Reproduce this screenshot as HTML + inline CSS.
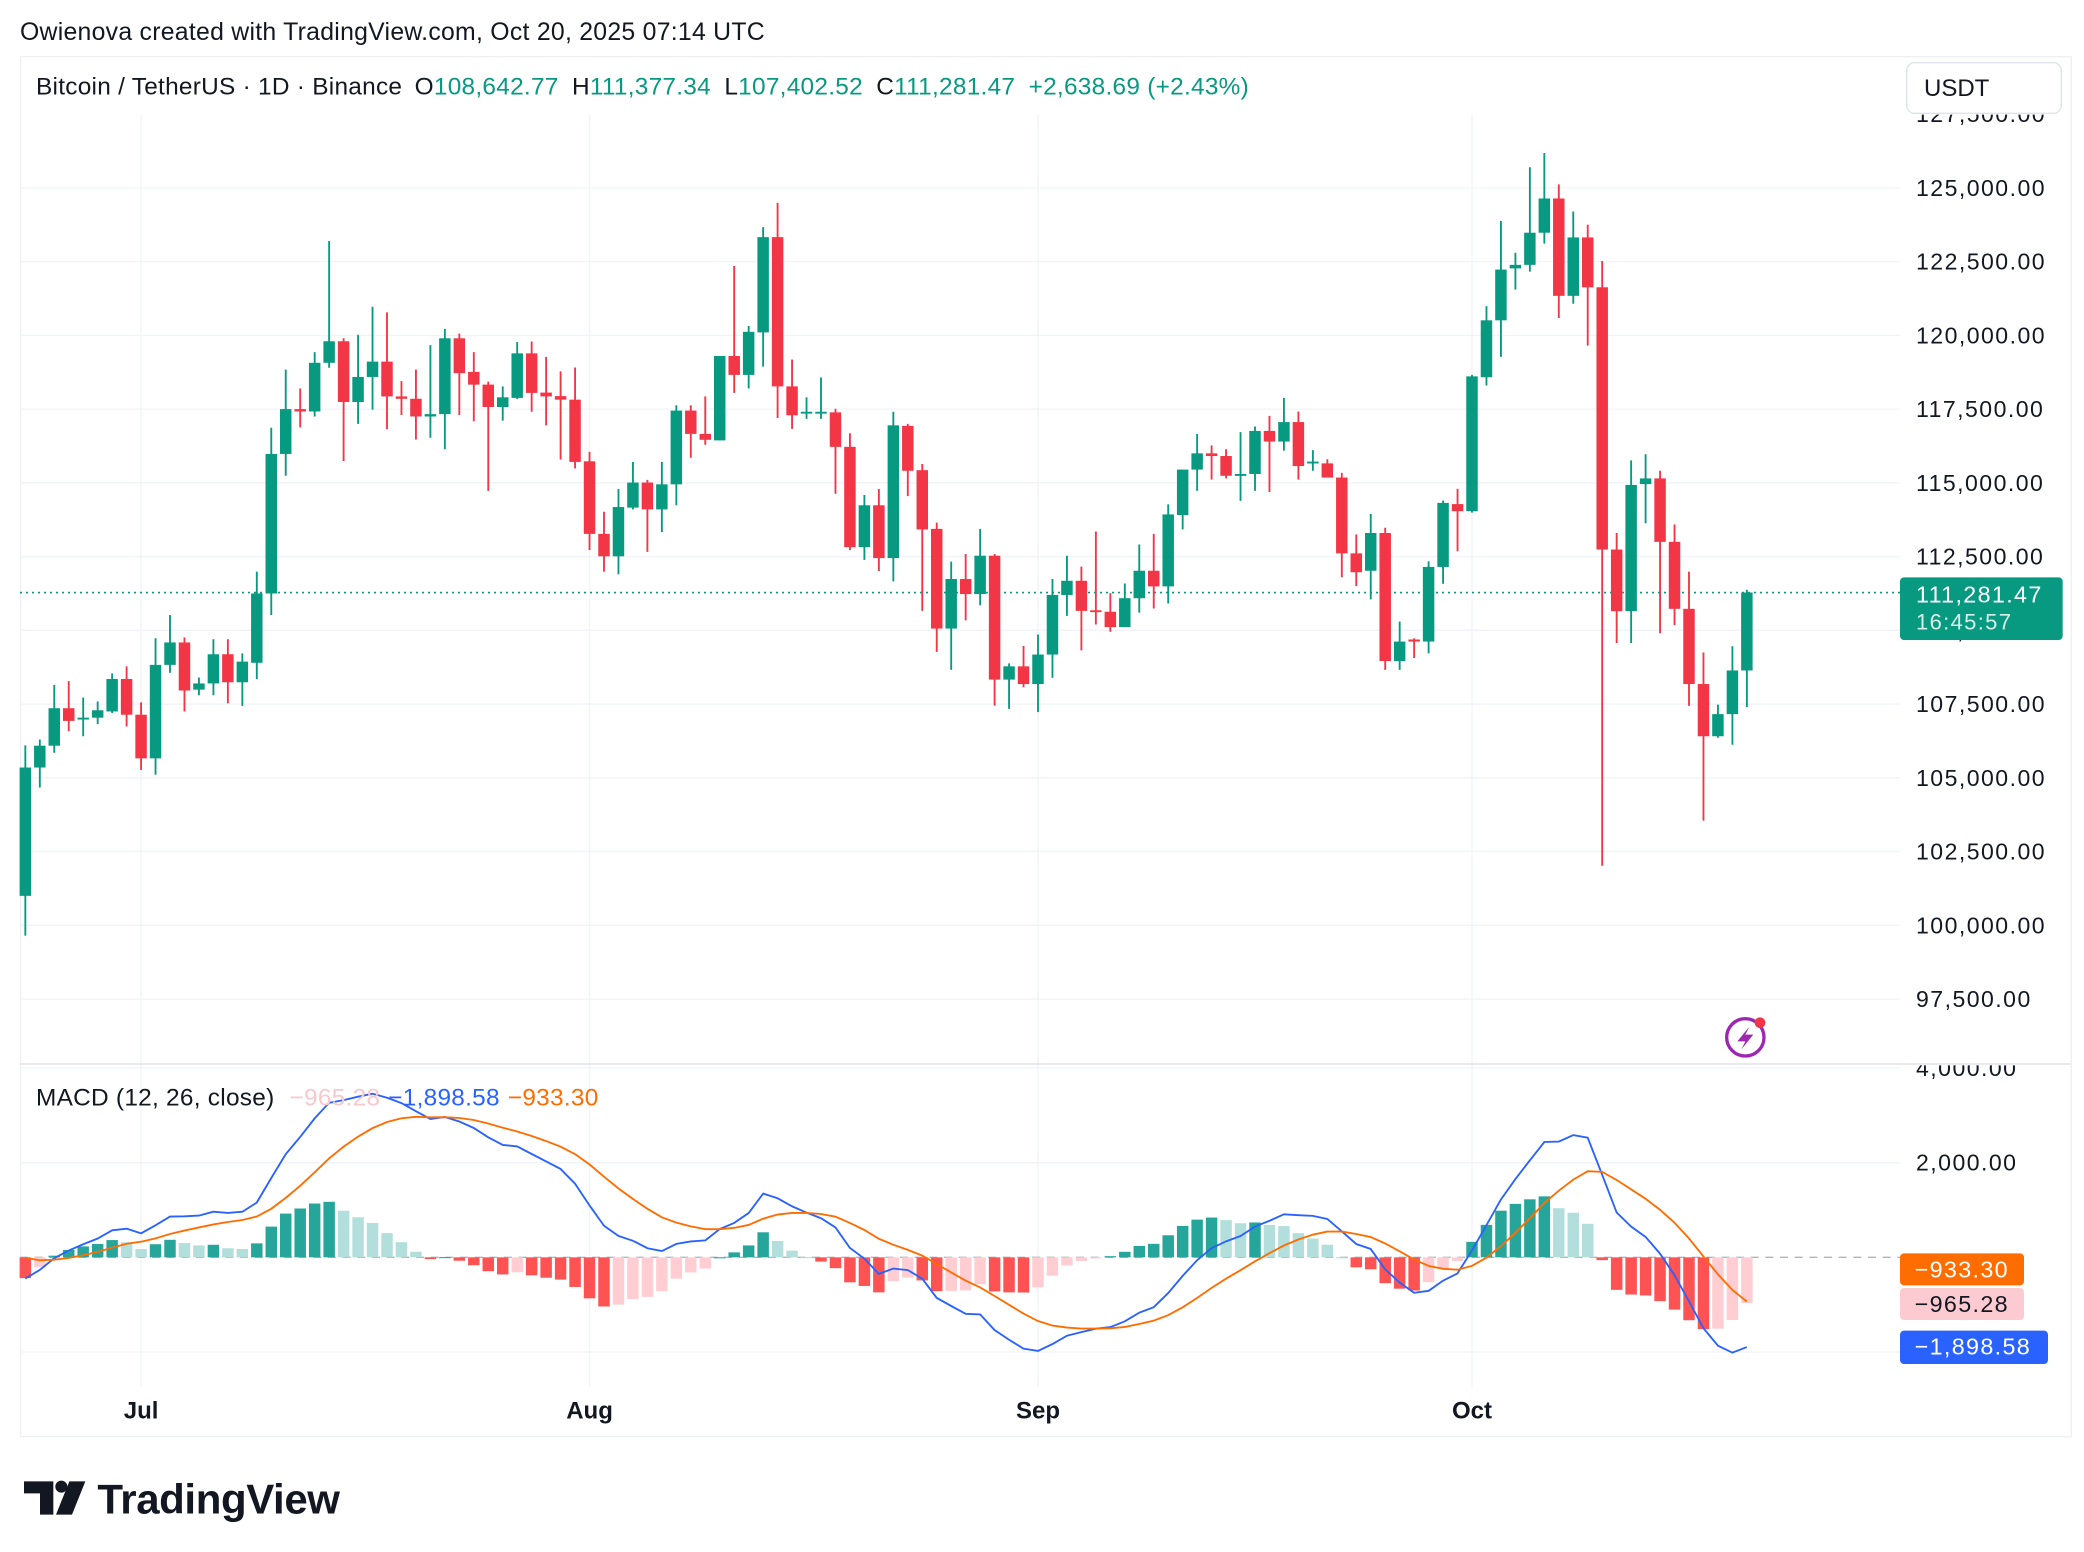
<!DOCTYPE html>
<html><head><meta charset="utf-8">
<style>
html,body{margin:0;padding:0;background:#fff;}
svg{display:block;font-family:"Liberation Sans",sans-serif;}
</style></head>
<body>
<svg id="chart" width="2084" height="1552" viewBox="0 0 1563 1164" xmlns="http://www.w3.org/2000/svg">
<rect x="0" y="0" width="1563" height="1164" fill="#fff"/>
<text x="15" y="30" font-size="18.6" fill="#131722" letter-spacing="0.2">Owienova created with TradingView.com, Oct 20, 2025 07:14 UTC</text>
<rect x="15.5" y="42.5" width="1538" height="1035" fill="none" stroke="#eef0f3"/>
<g id="grid"></g>
<g id="macd-g"></g>
<g id="candles"></g>
<line x1="15" y1="798" x2="1553" y2="798" stroke="#e0e3eb" stroke-width="1.2"/>
<g id="axis"></g>
<text x="27" y="71" font-size="18.3" fill="#131722" letter-spacing="0.2">Bitcoin / TetherUS · 1D · Binance <tspan dx="4">O</tspan><tspan fill="#089981">108,642.77</tspan><tspan dx="10">H</tspan><tspan fill="#089981">111,377.34</tspan><tspan dx="10">L</tspan><tspan fill="#089981">107,402.52</tspan><tspan dx="10">C</tspan><tspan fill="#089981">111,281.47</tspan><tspan dx="10" fill="#089981">+2,638.69 (+2.43%)</tspan></text>
<rect x="1430" y="47" width="116" height="38" rx="6" fill="#fff" stroke="#e0e3eb"/>
<text x="1443" y="72" font-size="18" fill="#131722">USDT</text>
<text x="27" y="829" font-size="18.3" fill="#131722" letter-spacing="0.2">MACD (12, 26, close) <tspan dx="6" fill="#f8c8cf">−965.28</tspan><tspan dx="6" fill="#2962ff">−1,898.58</tspan><tspan dx="6" fill="#ff6d00">−933.30</tspan></text>
<g>
<rect x="1425" y="433" width="122" height="47" rx="3" fill="#089981"/>
<text x="1437" y="452" font-size="17.5" fill="#fff" letter-spacing="1">111,281.47</text>
<text x="1437" y="472" font-size="16.5" fill="#d8f0ea" letter-spacing="1">16:45:57</text>
</g>
<g>
<rect x="1425" y="940" width="93" height="24" rx="3" fill="#ff6d00"/>
<text x="1436" y="958" font-size="17.5" fill="#fff" letter-spacing="1">−933.30</text>
<rect x="1425" y="966" width="93" height="24" rx="3" fill="#fccbd2"/>
<text x="1436" y="984" font-size="17.5" fill="#131722" letter-spacing="1">−965.28</text>
<rect x="1425" y="998" width="111" height="25" rx="3" fill="#2962ff"/>
<text x="1436" y="1016" font-size="17.5" fill="#fff" letter-spacing="1">−1,898.58</text>
</g>
<g>
<circle cx="1309" cy="778" r="14" fill="none" stroke="#9c27b0" stroke-width="2.5"/>
<path d="M1312 770 L1303 781 L1309 781 L1306 787 L1315 776 L1309 776 Z" fill="#9c27b0"/>
<circle cx="1320" cy="767" r="4" fill="#f23645"/>
</g>
<g>
<path d="M18 1111 H40 V1136 H30 V1120 H18 Z" fill="#131722"/>
<circle cx="46" cy="1115" r="4.5" fill="#131722"/>
<path d="M52 1111 H64 L54 1136 H42 Z" fill="#131722"/>
<text x="73" y="1135" font-size="31.5" font-weight="bold" fill="#131722" letter-spacing="-0.3">TradingView</text>
</g>
</svg>
<script>
const opens=[101000,105350,106090,107360,106980,107040,107250,108350,107140,105660,108830,109590,107990,108200,109190,108240,108900,111250,115980,117500,117420,119070,119800,117740,118590,119110,117930,117850,117250,117330,119900,
118760,118330,117570,117880,119390,118060,117940,117820,115730,113270,112510,114160,115010,114100,114950,117450,116660,116440,119300,118660,120100,123330,118270,117380,117380,117390,116220,112820,114240,112450,
116930,115430,113440,110060,111740,111230,112530,108330,108780,108180,109180,111200,111680,110680,110630,110110,111090,112020,111490,113910,115450,116000,115910,115260,115300,116760,116400,117060,115680,115660,115180,
112610,112020,113300,108960,109690,109620,112150,114280,114040,118580,120510,122270,122390,123480,124640,121340,123320,121630,112740,110650,114960,115150,113000,110730,108180,106410,107160,108640];
const highs=[106100,106300,108150,108280,107720,107590,108540,108780,107560,109730,110520,109760,108400,109700,109700,109220,111990,116870,118840,118200,119430,123200,119900,120020,120970,120780,118450,118840,119670,120220,120060,
119430,118430,118270,119770,119790,119270,118780,118910,116050,114020,114790,115710,115100,115710,117630,117630,117930,119300,122350,120320,123670,124490,119180,117900,118570,117510,116680,114590,114790,117410,
117000,115640,113650,112330,112590,113440,112590,108880,109470,109860,111740,112530,112160,113350,111260,111590,112910,113270,114270,115450,116660,116270,116140,116720,116910,117270,117880,117420,116110,115800,115340,
113250,113950,113480,110300,109730,112340,114400,114800,118660,120990,123880,122800,125700,126180,125120,124200,123750,122520,113300,115760,115970,115410,113590,111990,109250,107480,109460,111377];
const lows=[99650,104670,105850,106580,106410,106820,107200,106740,105270,105110,108560,107250,107800,107800,107530,107440,108350,110520,115240,116880,117250,118900,115740,117000,117480,116820,117300,116470,116530,116140,117300,
117090,114730,117110,117840,117410,116950,115790,115490,112720,111990,111900,114100,112660,113330,114240,115850,116290,116440,118050,118200,118940,117200,116830,117170,117170,114630,112720,112390,112010,111660,
114550,110660,109270,108660,110340,110850,107450,107340,108070,107230,108390,110490,109320,110200,109950,110110,110600,110740,110910,113420,114730,115110,115150,114390,114730,114690,116090,115110,115410,115180,111800,
111500,111050,108660,108660,109060,109220,111580,112680,113990,118300,119270,121550,122160,123110,120590,121070,119650,102020,109570,109570,113630,109900,110180,107440,103550,106360,106120,107403];
const closes=[105350,106090,107360,106930,107040,107290,108350,107140,105660,108830,109590,107960,108200,109190,108240,108940,111250,115980,117500,117420,119070,119800,117740,118590,119110,117930,117850,117250,117330,119900,118720,
118330,117570,117900,119390,118050,117930,117820,115710,113270,112510,114180,115010,114100,114950,117450,116660,116460,119300,118660,120120,123330,118270,117290,117410,117410,116220,112820,114240,112450,116950,
115410,113420,110060,111740,111230,112530,108330,108780,108180,109180,111200,111680,110660,110630,110110,111090,112020,111490,113930,115450,116000,115910,115240,115300,116760,116400,117060,115570,115720,115180,112610,
111970,113300,108960,109620,109620,112150,114320,114040,118610,120510,122230,122390,123480,124640,121340,123320,121630,112740,110650,114930,115150,113000,110730,108180,106410,107160,108640,111281.47];
const priceTicks=[97500,100000,102500,105000,107500,110000,112500,115000,117500,120000,122500,125000,127500];
const priceTickLabels=["97,500.00","100,000.00","102,500.00","105,000.00","107,500.00","110,000.00","112,500.00","115,000.00","117,500.00","120,000.00","122,500.00","125,000.00","127,500.00"];
const macdTicks=[-2000,0,2000,4000];
const macdTickLabels=["","","2,000.00","4,000.00"];
const monthLabels=["Jul","Aug","Sep","Oct"];
const monthIndex=[8,39,70,100];
const macdSeed=[104000,104600,100];

const NS="http://www.w3.org/2000/svg";
const X0=19, DX=10.85;
function xOf(i){return X0+i*DX;}
function yP(p){return 694-(p-100000)*0.022124;}
function yM(v){return 943-v*0.0355;}
function mk(tag,attrs,parent){const e=document.createElementNS(NS,tag);for(const k in attrs)e.setAttribute(k,attrs[k]);parent.appendChild(e);return e;}
const grid=document.getElementById('grid'), axis=document.getElementById('axis');
priceTicks.forEach((p,k)=>{
  const y=yP(p);
  if(y>88&&y<795){
    const l=mk('line',{x1:15,x2:1425,y1:y,y2:y,stroke:'#f0f3fa','stroke-width':1},grid);
    
    
  }
  if(y>80&&y<790){
    const t=mk('text',{x:1437,y:y+6,'font-size':17.3,fill:'#131722','letter-spacing':'1.1'},axis);
    t.textContent=priceTickLabels[k];
    
    
  }
});
const cp=mk('clipPath',{id:'axclip'},document.getElementById('chart'));
mk('rect',{x:1425,y:86,width:130,height:712},cp);
axis.setAttribute('clip-path','url(#axclip)');
const cp2=mk('clipPath',{id:'mclip'},document.getElementById('chart'));
mk('rect',{x:1425,y:799,width:130,height:240},cp2);
const maxis=mk('g',{'clip-path':'url(#mclip)'},document.getElementById('chart'));


macdTicks.forEach((v,k)=>{
  const y=yM(v);
  if(v!==0){
    const l=mk('line',{x1:15,x2:1425,y1:y,y2:y,stroke:'#f0f3fa','stroke-width':1},grid);
    
    
  }
  if(macdTickLabels[k]){
    const t=mk('text',{x:1437,y:y+6,'font-size':17.3,fill:'#131722','letter-spacing':'1.1'},maxis);
    t.textContent=macdTickLabels[k];
    
    
  }
});
monthIndex.forEach((mi,k)=>{
  const x=xOf(mi);
  const l=mk('line',{x1:x,x2:x,y1:86,y2:1040,stroke:'#f0f3fa','stroke-width':1},grid);
  
  
  const t=mk('text',{x:x,y:1064,'font-size':18,'font-weight':'bold','text-anchor':'middle',fill:'#131722'},grid);
  t.textContent=monthLabels[k];
  
  
});
const lp=mk('line',{x1:15,x2:1425,y1:yP(closes[closes.length-1]),y2:yP(closes[closes.length-1]),stroke:'#089981','stroke-width':1.2,'stroke-dasharray':'1.5 3'},grid);


const cg=document.getElementById('candles');
const UP='#089981', DN='#f23645';
for(let i=0;i<closes.length;i++){
  const x=xOf(i), up=closes[i]>=opens[i], c=up?UP:DN;
  const w=mk('line',{x1:x,x2:x,y1:yP(highs[i]),y2:yP(lows[i]),stroke:c,'stroke-width':1.4},cg);
  
  
  const yt=yP(Math.max(opens[i],closes[i])), yb=yP(Math.min(opens[i],closes[i]));
  const b=mk('rect',{x:x-4.3,y:yt,width:8.6,height:Math.max(1.4,yb-yt),fill:c},cg);
  
  
}
const mg=document.getElementById('macd-g');
let e12=macdSeed[0], e26=macdSeed[1], sig=macdSeed[2];
const macd=[], signal=[], hist=[];
for(let i=0;i<closes.length;i++){
  e12+= (closes[i]-e12)*2/13;
  e26+= (closes[i]-e26)*2/27;
  const m=e12-e26;
  sig+= (m-sig)*2/10;
  macd.push(m); signal.push(sig); hist.push(m-sig);
}
const zl=mk('line',{x1:15,x2:1425,y1:yM(0),y2:yM(0),stroke:'#b2b5be','stroke-width':1,'stroke-dasharray':'6 5'},mg);


for(let i=0;i<hist.length;i++){
  const h=hist[i], prev=i>0?hist[i-1]:0;
  let col;
  if(h>=0) col = h>=prev ? '#26a69a' : '#b2dfdb';
  else col = h<prev ? '#ff5252' : '#ffcdd2';
  const y1=yM(Math.max(h,0)), y2=yM(Math.min(h,0));
  const r=mk('rect',{x:xOf(i)-4.3,y:y1,width:8.6,height:Math.max(0.8,y2-y1),fill:col},mg);
  
  
}
function path(arr){return arr.map((v,i)=>(i?'L':'M')+xOf(i).toFixed(1)+' '+yM(v).toFixed(1)).join(' ');}
const ml=mk('path',{d:path(macd),fill:'none',stroke:'#2962ff','stroke-width':1.4},mg);


const sl=mk('path',{d:path(signal),fill:'none',stroke:'#ff6d00','stroke-width':1.4},mg);


</script>
</body></html>
